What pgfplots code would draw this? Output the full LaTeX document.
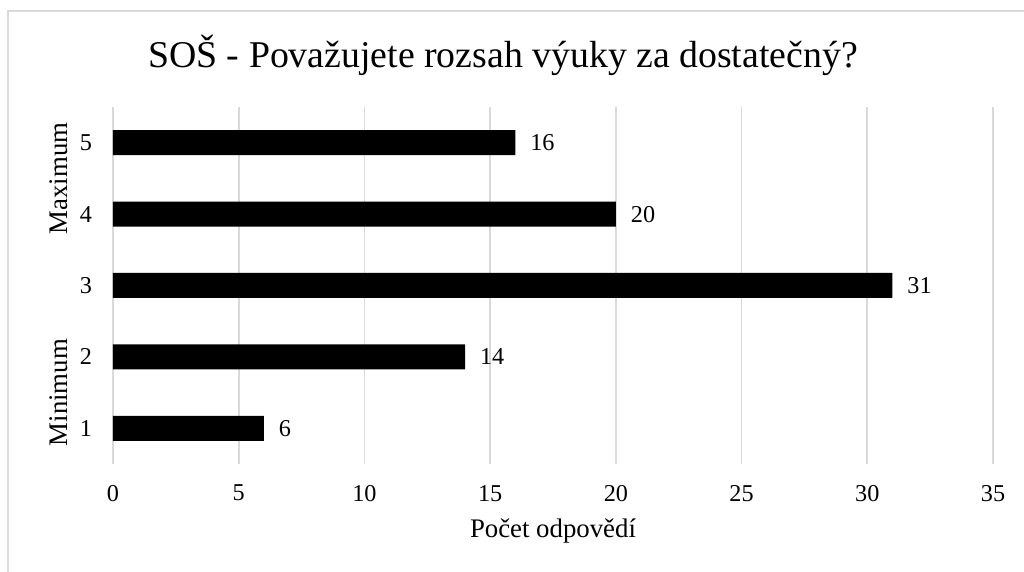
\documentclass[border=0pt]{standalone}
\usepackage{pgfplots}
\pgfplotsset{compat=1.18}
\usepackage{fontspec}
\setmainfont{Liberation Serif}
\definecolor{gridc}{HTML}{D9D9D9}
\begin{document}
\begin{tikzpicture}
\path[use as bounding box] (0,0) rectangle (512pt,286pt);
\draw[gridc, line width=0.8pt] (4pt,0) -- (4pt,280.5pt) -- (512pt,280.5pt);
\node[anchor=base, font=\fontsize{18.9}{22}\selectfont] at (251.5pt,252pt) {SOŠ - Považujete rozsah výuky za dostatečný?};
\begin{axis}[
  at={(56.5pt,54pt)}, anchor=south west,
  scale only axis, width=440pt, height=178.5pt,
  xbar, bar width=12.5pt,
  xmin=0, xmax=35, ymin=0.5, ymax=5.5,
  xtick={0,5,...,35}, ytick={1,2,3,4,5},
  axis line style={draw=none},
  major tick length=0pt,
  xmajorgrids, grid style={gridc, line width=0.8pt},
  /pgf/number format/assume math mode=true,
  ticklabel style={font=\fontsize{12.1}{14}\selectfont},
  xticklabel style={yshift=-7pt},
  yticklabel style={xshift=-7pt},
  xlabel={Počet odpovědí},
  xlabel style={font=\fontsize{13.4}{16}\selectfont, yshift=-2pt},
  nodes near coords,
  every node near coord/.append style={font=\fontsize{12.1}{14}\selectfont, xshift=4pt},
  clip=false,
]
\addplot[fill=black, draw=none] coordinates {(6,1) (14,2) (31,3) (20,4) (16,5)};
\node[rotate=90, font=\fontsize{13.4}{16}\selectfont] at (axis cs:-2.15,1.5) {Minimum};
\node[rotate=90, font=\fontsize{13.4}{16}\selectfont] at (axis cs:-2.15,4.5) {Maximum};
\end{axis}
\end{tikzpicture}
\end{document}
